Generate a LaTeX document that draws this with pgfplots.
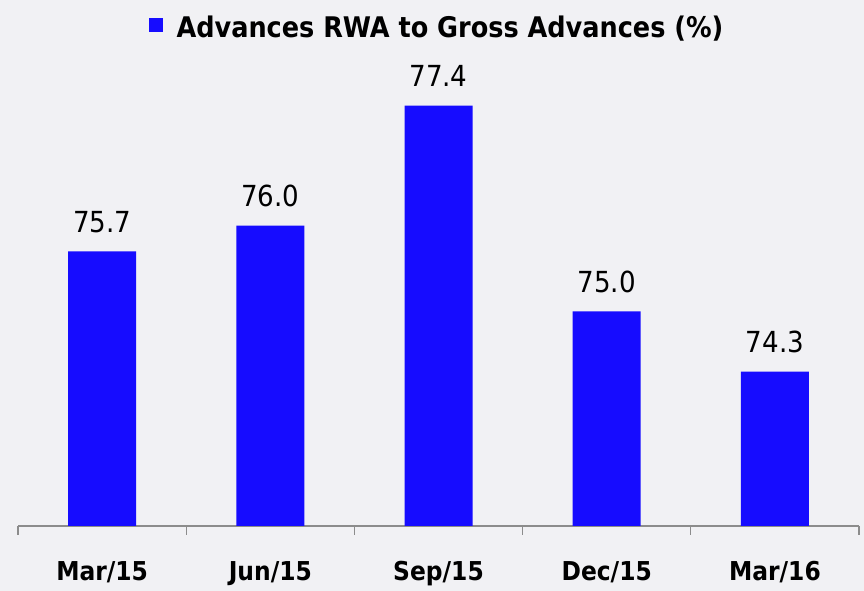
\documentclass[border=0pt]{standalone}
\usepackage{pgfplots}
\pgfplotsset{compat=1.18}
\usepackage{fontspec}
\setmainfont{DejaVu Sans Condensed}
\definecolor{barblue}{RGB}{22,12,255}
\definecolor{bgc}{RGB}{241,241,244}
\definecolor{axgray}{RGB}{140,140,140}
\begin{document}
\begin{tikzpicture}[x=1pt,y=1pt]
\fill[bgc] (0,0) rectangle (864,591);
\begin{axis}[
  at={(18pt,65pt)}, anchor=south west,
  scale only axis, width=841pt, height=471.9pt,
  xmin=-0.5, xmax=4.5, ymin=72.5, ymax=78,
  axis y line=none, axis x line*=bottom,
  x axis line style={axgray, line width=1.2pt},
  xtick={0,1,2,3,4},
  xticklabels={Mar/15,Jun/15,Sep/15,Dec/15,Mar/16},
  major tick length=0pt,
  minor xtick={-0.5,0.5,1.5,2.5,3.5,4.5},
  minor tick length=9pt,
  tick align=outside,
  every tick/.style={axgray, line width=1.2pt},
  xticklabel style={font=\fontsize{26}{26}\selectfont\bfseries, anchor=base, yshift=-54pt, inner sep=0pt},
  ybar, bar width=68pt,
  clip=false,
  /pgf/number format/assume math mode=true,
  nodes near coords={\pgfmathprintnumber[fixed,fixed zerofill,precision=1,assume math mode=true]{\pgfplotspointmeta}},
  every node near coord/.style={font=\fontsize{29}{29}\selectfont, anchor=base, inner sep=0pt, yshift=19pt, black},
  legend style={draw=none, fill=none, at={(0.4982,1.0574)}, anchor=center, inner sep=0pt,
    font=\fontsize{28.4}{28.4}\selectfont\bfseries,
    /tikz/every odd column/.append style={column sep=12pt}},
  legend image code/.code={\fill[barblue] (0pt,-5pt) rectangle (14pt,9pt);},
]
\addplot[fill=barblue, draw=none] coordinates {(0,75.7) (1,76.0) (2,77.4) (3,75.0) (4,74.3)};
\addlegendentry{Advances RWA to Gross Advances (\%)}
\end{axis}
\end{tikzpicture}
\end{document}
